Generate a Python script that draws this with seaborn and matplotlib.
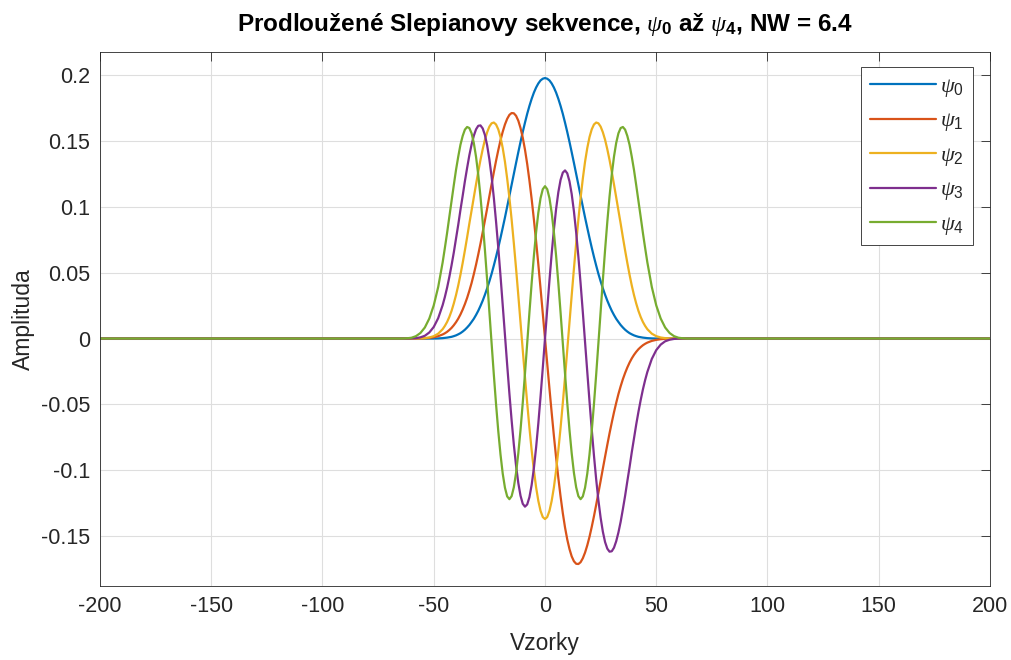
import matplotlib
matplotlib.use("Agg")
import matplotlib.pyplot as plt
import seaborn as sns
import pandas as pd

# ---------------- data ----------------
vzorky = [-200,
          -64, -62, -60, -58, -56, -54, -52, -50, -48, -46,
          -45, -44, -43, -42, -41, -40, -39, -38, -37, -36,
          -35, -34, -33, -32, -31, -30, -29, -28, -27, -26,
          -25, -24, -23, -22, -21, -20, -19, -18, -17, -16,
          -15, -14, -13, -12, -11, -10, -9, -8, -7, -6,
          -5, -4, -3, -2, -1,
          0,
          1, 2, 3, 4, 5,
          6, 7, 8, 9, 10, 11, 12, 13, 14, 15,
          16, 17, 18, 19, 20, 21, 22, 23, 24, 25,
          26, 27, 28, 29, 30, 31, 32, 33, 34, 35,
          36, 37, 38, 39, 40, 41, 42, 43, 44, 45,
          46, 48, 50, 52, 54, 56, 58, 60, 62, 64,
          200]

psi_0 = [0.0,
         0, 0, 0, 0, 0, 0, 0, 0, 0.0001, 0.0003,
         0.0005, 0.0007, 0.0010, 0.0013, 0.0018, 0.0024, 0.0032, 0.0041, 0.0053, 0.0067,
         0.0084, 0.0103, 0.0126, 0.0150, 0.0179, 0.0211, 0.0248, 0.0288, 0.0333, 0.0382,
         0.0435, 0.0492, 0.0555, 0.0621, 0.0691, 0.0765, 0.0842, 0.0920, 0.1002, 0.1085,
         0.1169, 0.1252, 0.1335, 0.1416, 0.1495, 0.1570, 0.1641, 0.1708, 0.1768, 0.1822,
         0.1869, 0.1908, 0.1939, 0.1962, 0.1975,
         0.1980,
         0.1975, 0.1962, 0.1939, 0.1908, 0.1869,
         0.1822, 0.1768, 0.1708, 0.1641, 0.1570, 0.1495, 0.1416, 0.1335, 0.1252, 0.1169,
         0.1085, 0.1002, 0.0920, 0.0842, 0.0765, 0.0691, 0.0621, 0.0555, 0.0492, 0.0435,
         0.0382, 0.0333, 0.0288, 0.0248, 0.0211, 0.0179, 0.0150, 0.0126, 0.0103, 0.0084,
         0.0067, 0.0053, 0.0041, 0.0032, 0.0024, 0.0018, 0.0013, 0.0010, 0.0007, 0.0005,
         0.0003, 0.0001, 0, 0, 0, 0, 0, 0, 0, 0,
         0.0]

psi_1 = [0.0,
         0, 0, 0, 0, 0.0001, 0.0002, 0.0005, 0.0010, 0.0018, 0.0031,
         0.0040, 0.0051, 0.0065, 0.0081, 0.0101, 0.0124, 0.0151, 0.0183, 0.0220, 0.0262,
         0.0309, 0.0363, 0.0422, 0.0489, 0.0561, 0.0639, 0.0721, 0.0808, 0.0898, 0.0989,
         0.1082, 0.1173, 0.1264, 0.1351, 0.1432, 0.1507, 0.1572, 0.1627, 0.1670, 0.1700,
         0.1714, 0.1712, 0.1693, 0.1656, 0.1600, 0.1527, 0.1436, 0.1327, 0.1201, 0.1061,
         0.0906, 0.0740, 0.0564, 0.0380, 0.0191,
         0.0,
         -0.0191, -0.0380, -0.0564, -0.0740, -0.0906,
         -0.1061, -0.1201, -0.1327, -0.1436, -0.1527, -0.1600, -0.1656, -0.1693, -0.1712, -0.1714,
         -0.1700, -0.1670, -0.1627, -0.1572, -0.1507, -0.1432, -0.1351, -0.1264, -0.1173, -0.1082,
         -0.0989, -0.0898, -0.0808, -0.0721, -0.0639, -0.0561, -0.0489, -0.0422, -0.0363, -0.0309,
         -0.0262, -0.0220, -0.0183, -0.0151, -0.0124, -0.0101, -0.0081, -0.0065, -0.0051, -0.0040,
         -0.0031, -0.0018, -0.0010, -0.0005, -0.0002, -0.0001, 0, 0, 0, 0,
         0.0]

psi_2 = [0.0,
         0, 0, 0, 0, 0.0001, 0.0003, 0.0008, 0.0018, 0.0037, 0.0071,
         0.0096, 0.0126, 0.0164, 0.0210, 0.0266, 0.0330, 0.0403, 0.0485, 0.0575, 0.0670,
         0.0770, 0.0874, 0.0973, 0.1073, 0.1172, 0.1268, 0.1358, 0.1439, 0.1511, 0.1568,
         0.1611, 0.1636, 0.1642, 0.1627, 0.1590, 0.1531, 0.1448, 0.1344, 0.1216, 0.1069,
         0.0904, 0.0723, 0.0531, 0.0329, 0.0121, -0.0087, -0.0293, -0.0491, -0.0678, -0.0849,
         -0.1001, -0.1131, -0.1234, -0.1310, -0.1357,
         -0.1372,
         -0.1357, -0.1310, -0.1234, -0.1131, -0.1001,
         -0.0849, -0.0678, -0.0491, -0.0293, -0.0087, 0.0121, 0.0329, 0.0531, 0.0723, 0.0904,
         0.1069, 0.1216, 0.1344, 0.1448, 0.1531, 0.1590, 0.1627, 0.1642, 0.1636, 0.1611,
         0.1568, 0.1511, 0.1439, 0.1358, 0.1268, 0.1172, 0.1073, 0.0973, 0.0874, 0.0770,
         0.0670, 0.0575, 0.0485, 0.0403, 0.0330, 0.0266, 0.0210, 0.0164, 0.0126, 0.0096,
         0.0071, 0.0037, 0.0018, 0.0008, 0.0003, 0.0001, 0, 0, 0, 0,
         0.0]

psi_3 = [0.0,
         0, 0, 0.0001, 0.0003, 0.0009, 0.0021, 0.0046, 0.0088, 0.0155, 0.0254,
         0.0316, 0.0387, 0.0468, 0.0557, 0.0653, 0.0759, 0.0864, 0.0978, 0.1085, 0.1196,
         0.1297, 0.1393, 0.1474, 0.1541, 0.1590, 0.1617, 0.1620, 0.1597, 0.1547, 0.1468,
         0.1362, 0.1230, 0.1070, 0.0889, 0.0690, 0.0477, 0.0253, 0.0027, -0.0200, -0.0418,
         -0.0622, -0.0808, -0.0967, -0.1098, -0.1195, -0.1256, -0.1278, -0.1261, -0.1206, -0.1113,
         -0.0986, -0.0828, -0.0645, -0.0441, -0.0224,
         0.0,
         0.0224, 0.0441, 0.0645, 0.0828, 0.0986,
         0.1113, 0.1206, 0.1261, 0.1278, 0.1256, 0.1195, 0.1098, 0.0967, 0.0808, 0.0622,
         0.0418, 0.0200, -0.0027, -0.0253, -0.0477, -0.0690, -0.0889, -0.1070, -0.1230, -0.1362,
         -0.1468, -0.1547, -0.1597, -0.1620, -0.1617, -0.1590, -0.1541, -0.1474, -0.1393, -0.1297,
         -0.1196, -0.1085, -0.0978, -0.0864, -0.0759, -0.0653, -0.0557, -0.0468, -0.0387, -0.0316,
         -0.0254, -0.0155, -0.0088, -0.0046, -0.0021, -0.0009, -0.0003, -0.0001, 0, 0,
         0.0]

psi_4 = [0.0,
         0, 0.0002, 0.0006, 0.0018, 0.0042, 0.0084, 0.0152, 0.0252, 0.0392, 0.0579,
         0.0689, 0.0803, 0.0925, 0.1045, 0.1165, 0.1281, 0.1382, 0.1473, 0.1540, 0.1588,
         0.1608, 0.1600, 0.1560, 0.1487, 0.1382, 0.1245, 0.1079, 0.0886, 0.0673, 0.0443,
         0.0204, -0.0036, -0.0274, -0.0499, -0.0704, -0.0881, -0.1027, -0.1134, -0.1200, -0.1221,
         -0.1198, -0.1130, -0.1021, -0.0873, -0.0694, -0.0489, -0.0267, -0.0035, 0.0197, 0.0421,
         0.0627, 0.0808, 0.0956, 0.1067, 0.1135,
         0.1158,
         0.1135, 0.1067, 0.0956, 0.0808, 0.0627,
         0.0421, 0.0197, -0.0035, -0.0267, -0.0489, -0.0694, -0.0873, -0.1021, -0.1130, -0.1198,
         -0.1221, -0.1200, -0.1134, -0.1027, -0.0881, -0.0704, -0.0499, -0.0274, -0.0036, 0.0204,
         0.0443, 0.0673, 0.0886, 0.1079, 0.1245, 0.1382, 0.1487, 0.1560, 0.1600, 0.1608,
         0.1588, 0.1540, 0.1473, 0.1382, 0.1281, 0.1165, 0.1045, 0.0925, 0.0803, 0.0689,
         0.0579, 0.0392, 0.0252, 0.0152, 0.0084, 0.0042, 0.0018, 0.0006, 0.0002, 0,
         0.0]

serie_popisky = [r"$\psi_0$", r"$\psi_1$", r"$\psi_2$", r"$\psi_3$", r"$\psi_4$"]
barvy = ["#0072BD", "#D95319", "#EDB120", "#7E2F8E", "#77AC30"]

x_ticks = [-200, -150, -100, -50, 0, 50, 100, 150, 200]
x_tick_labels = ["-200", "-150", "-100", "-50", "0", "50", "100", "150", "200"]
y_ticks = [-0.15, -0.1, -0.05, 0, 0.05, 0.1, 0.15, 0.2]
y_tick_labels = ["-0.15", "-0.1", "-0.05", "0", "0.05", "0.1", "0.15", "0.2"]

titulek = r"Prodloužené Slepianovy sekvence, $\psi_{\mathbf{0}}$ až $\psi_{\mathbf{4}}$, NW = 6.4"
popisek_x = "Vzorky"
popisek_y = "Amplituda"

# ---------------- styling ----------------
sns.set_theme(style="white")
plt.rcParams["font.family"] = ["Liberation Sans", "DejaVu Sans"]
plt.rcParams["mathtext.fontset"] = "custom"
plt.rcParams["mathtext.rm"] = "Liberation Sans"
plt.rcParams["mathtext.it"] = "Liberation Serif:italic"
plt.rcParams["mathtext.bf"] = "Liberation Sans:bold"
plt.rcParams["axes.unicode_minus"] = False

dark = "#262626"

# ---------------- table for seaborn ----------------
vsechny = [psi_0, psi_1, psi_2, psi_3, psi_4]
for hodnoty in vsechny:
    if len(hodnoty) != len(vzorky):
        raise ValueError("length mismatch %d vs %d" % (len(hodnoty), len(vzorky)))

rows = []
for popisek, hodnoty in zip(serie_popisky, vsechny):
    for xv, yv in zip(vzorky, hodnoty):
        rows.append({"Vzorky": xv, "Amplituda": yv, "serie": popisek})
df = pd.DataFrame(rows)

fig = plt.figure(figsize=(10.12, 6.6), dpi=100)
ax = fig.add_axes([100 / 1012, 1 - 586 / 660, 890 / 1012, 534 / 660])

sns.lineplot(data=df, x="Vzorky", y="Amplituda", hue="serie",
             hue_order=serie_popisky, palette=barvy, linewidth=1.6,
             estimator=None, sort=False, ax=ax)
for ln in ax.get_lines():
    ln.set_solid_joinstyle("round")

ax.set_xlim(-200, 200)
ax.set_ylim(-0.1881, 0.2178)
ax.set_xticks(x_ticks)
ax.set_xticklabels(x_tick_labels)
ax.set_yticks(y_ticks)
ax.set_yticklabels(y_tick_labels)

ax.grid(True, color="#dedede", linewidth=0.8)
ax.set_axisbelow(True)
for sp in ax.spines.values():
    sp.set_visible(True)
    sp.set_color(dark)
    sp.set_linewidth(0.6)

ax.tick_params(axis="both", which="major", direction="in", length=6.5, width=0.6,
               top=True, right=True, labelsize=15.5, colors=dark, pad=7)

ax.set_xlabel(popisek_x, fontsize=16.5, color=dark, labelpad=11)
ax.set_ylabel(popisek_y, fontsize=16.5, color=dark, labelpad=4.5)
ax.set_title(titulek, fontsize=17.5, fontweight="bold", color="black", pad=15)

handles, labels = ax.get_legend_handles_labels()
leg = ax.legend(handles, labels, loc="upper right",
                bbox_to_anchor=((972.7 - 100) / 890, (586 - 67.3) / 534),
                borderaxespad=0, fontsize=16, frameon=True, fancybox=False,
                edgecolor=dark, framealpha=1, handlelength=2.97,
                handletextpad=0.2, labelspacing=0.52, borderpad=0.38)
leg.get_frame().set_linewidth(0.6)

fig.savefig("out.png", dpi=100)
